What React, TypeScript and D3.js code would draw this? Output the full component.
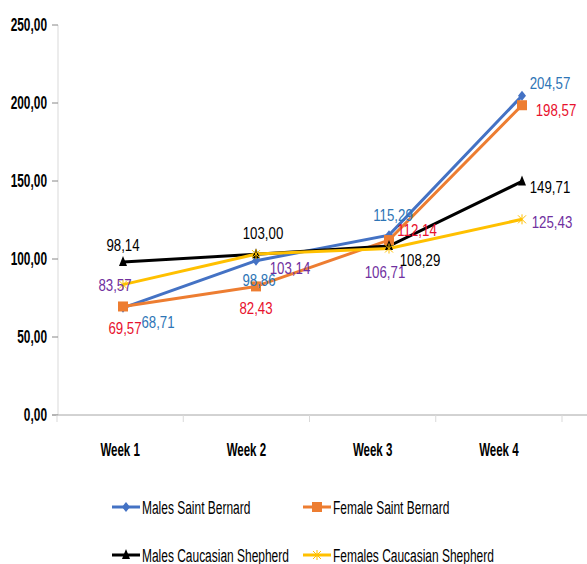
import React from "react";
import * as d3 from "d3";

const weeks = ["Week 1", "Week 2", "Week 3", "Week 4"];
const yTicks = [0, 50, 100, 150, 200, 250];

const malesSaintBernard = [68.71, 98.86, 115.29, 204.57];
const femaleSaintBernard = [69.57, 82.43, 112.14, 198.57];
const malesCaucasian = [98.14, 103.0, 108.29, 149.71];
const femalesCaucasian = [83.57, 103.14, 106.71, 125.43];

const seriesNames = [
  "Males Saint Bernard",
  "Female Saint Bernard",
  "Males Caucasian Shepherd",
  "Females Caucasian Shepherd",
];

// label centre offsets (dx, dy) relative to the point
const labelOffsets: [number, number][][] = [
  [[35, 14], [3, 19], [4, -20], [28, -13]],
  [[2, 22], [0, 22], [28, -10], [34, 5]],
  [[0, -17], [7, -21], [31, 14], [28, 6]],
  [[-8, 0], [34, 14], [-4, 24], [30, 3]],
];

const lineColors = ["#4472C4", "#ED7D31", "#000000", "#FFC000"];
const labelColors = ["#2E75B6", "#E8112D", "#000000", "#7030A0"];
const markers = ["diamond", "square", "triangle", "star"];

const FONT = "'Liberation Sans', Arial, sans-serif";

function NText({
  x,
  y,
  sx,
  size,
  anchor,
  bold,
  color,
  children,
}: {
  x: number;
  y: number;
  sx: number;
  size: number;
  anchor: string;
  bold?: boolean;
  color: string;
  children: React.ReactNode;
}) {
  return (
    <g transform={`translate(${x},${y}) scale(${sx},1)`}>
      <text
        x={0}
        y={0}
        dy="0.35em"
        textAnchor={anchor as any}
        fontFamily={FONT}
        fontWeight={bold ? "bold" : "normal"}
        fontSize={size}
        fill={color}
      >
        {children}
      </text>
    </g>
  );
}

function Marker({ type, x, y, color }: { type: string; x: number; y: number; color: string }) {
  if (type === "diamond") {
    return <path d={`M${x},${y - 5}L${x + 4},${y}L${x},${y + 5}L${x - 4},${y}Z`} fill={color} />;
  }
  if (type === "square") {
    return <rect x={x - 5} y={y - 5} width={10} height={10} fill={color} />;
  }
  if (type === "triangle") {
    return <path d={`M${x},${y - 6}L${x + 4},${y + 4}L${x - 4},${y + 4}Z`} fill={color} />;
  }
  return (
    <g stroke={color} strokeWidth={1}>
      <line x1={x - 4} y1={y - 4} x2={x + 4} y2={y + 4} />
      <line x1={x - 4} y1={y + 4} x2={x + 4} y2={y - 4} />
      <line x1={x} y1={y - 5} x2={x} y2={y + 5} />
    </g>
  );
}

export default function App() {
  const width = 587;
  const height = 564;
  const series = [malesSaintBernard, femaleSaintBernard, malesCaucasian, femalesCaucasian];

  const y = d3.scaleLinear().domain([0, 250]).range([415, 25]);
  const xBand = d3.scaleBand<string>().domain(weeks).range([57, 562]);
  const xPt = d3.scalePoint<string>().domain(weeks).range([123, 522]);

  const line = d3
    .line<[string, number]>()
    .x((d) => xPt(d[0]) as number)
    .y((d) => y(d[1]));

  const fmt = (v: number) => v.toFixed(2).replace(".", ",");

  const legendItems = [
    { x: 112, y: 507 },
    { x: 303, y: 507 },
    { x: 112, y: 555 },
    { x: 303, y: 555 },
  ];

  return (
    <svg
      width={width}
      height={height}
      style={{ position: "absolute", left: 0, top: 0, background: "#fff" }}
    >
      {/* y axis */}
      <line x1={58} x2={58} y1={25} y2={415} stroke="#d9d9d9" strokeWidth={1} />
      {yTicks.map((t) => (
        <g key={t}>
          <line x1={52} x2={58} y1={y(t)} y2={y(t)} stroke="#888" />
          <NText x={47} y={y(t)} sx={0.66} size={18} anchor="end" bold color="#000">
            {fmt(t)}
          </NText>
        </g>
      ))}
      {/* x axis */}
      <line x1={52} x2={587} y1={415} y2={415} stroke="#a6a6a6" strokeWidth={1} />
      {weeks.map((w, i) => (
        <line
          key={"t" + i}
          x1={xBand(w) as number}
          x2={xBand(w) as number}
          y1={415}
          y2={422}
          stroke="#d9d9d9"
        />
      ))}
      <line x1={562} x2={562} y1={415} y2={422} stroke="#d9d9d9" />
      {weeks.map((w) => (
        <NText
          key={w}
          x={(xBand(w) as number) + xBand.bandwidth() / 2}
          y={450}
          sx={0.64}
          size={18}
          anchor="middle"
          bold
          color="#000"
        >
          {w}
        </NText>
      ))}

      {/* lines */}
      {series.map((s, si) => (
        <path
          key={"l" + si}
          d={line(weeks.map((w, i) => [w, s[i]] as [string, number])) as string}
          fill="none"
          stroke={lineColors[si]}
          strokeWidth={3}
        />
      ))}
      {series.map((s, si) =>
        s.map((v, i) => (
          <Marker key={`m${si}-${i}`} type={markers[si]} x={xPt(weeks[i]) as number} y={y(v)} color={lineColors[si]} />
        ))
      )}
      {/* data labels */}
      {series.map((s, si) =>
        s.map((v, i) => {
          const [dx, dy] = labelOffsets[si][i];
          return (
            <NText
              key={`d${si}-${i}`}
              x={(xPt(weeks[i]) as number) + dx}
              y={y(v) + dy}
              sx={0.78}
              size={17}
              anchor="middle"
              color={labelColors[si]}
            >
              {fmt(v)}
            </NText>
          );
        })
      )}

      {/* legend */}
      {seriesNames.map((n, i) => (
        <g key={n}>
          <line
            x1={legendItems[i].x}
            x2={legendItems[i].x + 28}
            y1={legendItems[i].y}
            y2={legendItems[i].y}
            stroke={lineColors[i]}
            strokeWidth={3}
          />
          <Marker type={markers[i]} x={legendItems[i].x + 14} y={legendItems[i].y} color={lineColors[i]} />
          <NText x={legendItems[i].x + 30} y={legendItems[i].y} sx={0.63} size={19} anchor="start" color="#000">
            {n}
          </NText>
        </g>
      ))}
    </svg>
  );
}
